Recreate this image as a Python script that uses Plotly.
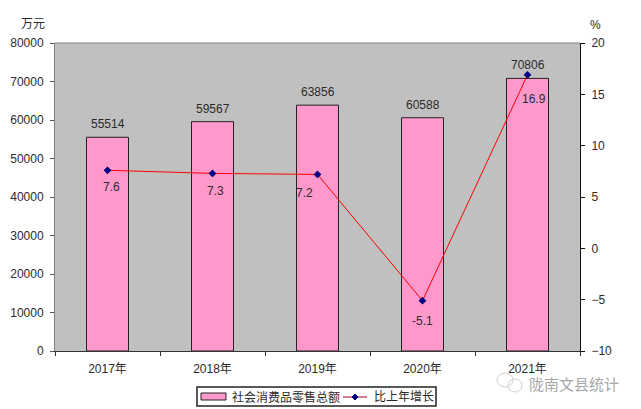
# retail sales bars with growth line on a second axis
import plotly.graph_objects as go

years = ['2017年', '2018年', '2019年', '2020年', '2021年']
sales = [55514, 59567, 63856, 60588, 70806]
growth = [7.6, 7.3, 7.2, -5.1, 16.9]

sales_name = '社会消费品零售总额'
growth_name = '比上年增长'

# nudges for the growth labels, they don't sit in one fixed spot
label_dx = [4, 3, -13, 0, 6]
label_dy = [-17, -18, -19, -20, -24]

font_family = 'Liberation Sans, Noto Sans CJK SC'
text_color = '#2b2b2b'


# pixel position in the photo -> paper coords (plot area is 55..580, 43..351)
def px(x):
    return (x - 55) / 525


def py(y):
    return (351 - y) / 308


fig = go.Figure()

fig.add_trace(go.Bar(
    x=years,
    y=sales,
    name=sales_name,
    width=0.4,
    marker=dict(color='#FF99CC', line=dict(color='#222222', width=1)),
    showlegend=False,
))

fig.add_trace(go.Scatter(
    x=years,
    y=growth,
    name=growth_name,
    yaxis='y2',
    mode='lines+markers',
    line=dict(color='#FF0000', width=1),
    marker=dict(color='#000080', size=6, symbol='diamond'),
    showlegend=False,
))

for i, year in enumerate(years):
    fig.add_annotation(
        x=year, y=sales[i], text=str(sales[i]),
        showarrow=False, yshift=13,
        font=dict(size=12, color=text_color),
    )
    fig.add_annotation(
        x=year, y=growth[i], yref='y2', text=str(growth[i]),
        showarrow=False, xshift=label_dx[i], yshift=label_dy[i],
        font=dict(size=12, color=text_color),
    )


def paper_text(x, y, text, size=12, color=text_color, anchor='center'):
    fig.add_annotation(xref='paper', yref='paper', x=px(x), y=py(y), text=text,
                       xanchor=anchor, yanchor='middle', showarrow=False,
                       font=dict(size=size, color=color))


def paper_shape(kind, x0, y0, x1, y1, **kw):
    fig.add_shape(type=kind, xref='paper', yref='paper',
                  x0=px(x0), x1=px(x1), y0=py(y0), y1=py(y1), **kw)


# unit labels above the axes
paper_text(33, 24, '万元')
paper_text(595, 25, '%')

# top edge of the plot area
paper_shape('line', 55, 43, 580, 43, line=dict(color='#808080', width=1))

# legend drawn by hand, plotly's own box is too tall
paper_shape('rect', 197, 387, 436, 406, line=dict(color='#222222', width=1.5), fillcolor='white')
paper_shape('rect', 201, 393, 226, 400, line=dict(color='#222222', width=1), fillcolor='#FF99CC')
paper_text(230, 397, sales_name, anchor='left')
paper_shape('line', 343, 397, 367, 397, line=dict(color='#A00020', width=1))
diamond = f'M {px(355)} {py(394)} L {px(358)} {py(397)} L {px(355)} {py(400)} L {px(352)} {py(397)} Z'
fig.add_shape(type='path', xref='paper', yref='paper', path=diamond,
              fillcolor='#000080', line=dict(color='#000080', width=1))
paper_text(372, 397, growth_name, anchor='left')

# watermark bottom right
paper_text(527, 384, '陇南文县统计', size=15, color='#a8a8a8', anchor='left')
paper_shape('circle', 497, 373, 513, 387, line=dict(color='#cfcfcf', width=1))
paper_shape('circle', 508, 379, 522, 392, line=dict(color='#cfcfcf', width=1))

# body has an 8px margin in the page, so the figure is 8px smaller and shifted
fig.update_layout(
    width=633,
    height=401,
    autosize=False,
    paper_bgcolor='white',
    plot_bgcolor='#C0C0C0',
    font=dict(family=font_family, size=12, color=text_color),
    margin=dict(l=47, r=61, t=35, b=58, pad=0),
    showlegend=False,
    xaxis=dict(
        type='category',
        tickson='boundaries',
        ticks='outside',
        ticklen=4,
        tickcolor='#333333',
        linecolor='#333333',
        showline=True,
        showgrid=False,
        tickfont=dict(size=12),
        ticklabelstandoff=7,
        automargin=False,
    ),
    yaxis=dict(
        range=[0, 80000],
        dtick=10000,
        tickformat='d',
        ticks='outside',
        ticklen=4,
        tickcolor='#555555',
        linecolor='#808080',
        showline=True,
        showgrid=False,
        zeroline=False,
        ticklabelstandoff=4,
        automargin=False,
    ),
    yaxis2=dict(
        overlaying='y',
        side='right',
        range=[-10, 20],
        dtick=5,
        ticks='outside',
        ticklen=4,
        tickcolor='#111111',
        linecolor='#111111',
        showline=True,
        showgrid=False,
        zeroline=False,
        ticklabelstandoff=4,
        automargin=False,
    ),
)

fig.write_html("out.html")
